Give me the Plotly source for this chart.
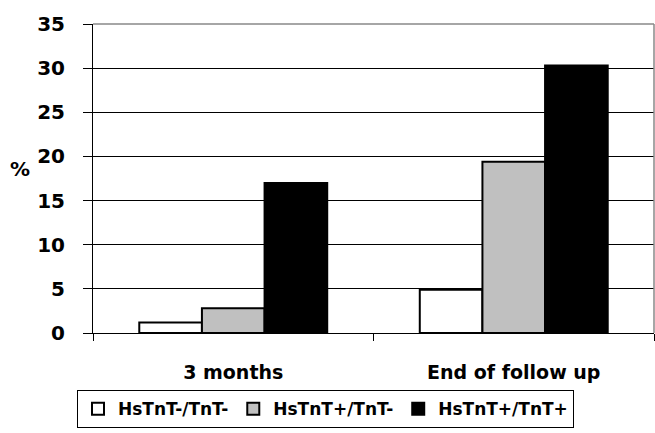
import plotly.graph_objects as go

categories = ["3 months", "End of follow up"]
series_names = ["HsTnT-/TnT-", "HsTnT+/TnT-", "HsTnT+/TnT+"]
series_values = [
    [1.2, 4.9],
    [2.8, 19.4],
    [17.0, 30.3],
]
series_colors = ["#ffffff", "#c0c0c0", "#000000"]
y_ticks = [0, 5, 10, 15, 20, 25, 30, 35]

FONT = "DejaVu Sans, sans-serif"

fig = go.Figure()
for name, vals, col in zip(series_names, series_values, series_colors):
    fig.add_trace(go.Bar(
        x=categories, y=vals, name=name,
        marker=dict(color=col, line=dict(color="black", width=2)),
    ))

fig.update_layout(
    width=655, height=433,
    margin=dict(l=93, r=1, t=24, b=100),
    paper_bgcolor="white", plot_bgcolor="white",
    barmode="group", bargap=0.33, bargroupgap=0,
    font=dict(family=FONT, color="black", size=20),
    showlegend=True,
    legend=dict(
        orientation="h", x=-0.0285, xanchor="left", y=-0.185, yanchor="top",
        bordercolor="black", borderwidth=1,
        font=dict(family=FONT, size=17, color="black", weight="bold"),
        itemwidth=30, tracegroupgap=0,
    ),
    xaxis=dict(
        type="category", showline=True, linecolor="black", linewidth=1,
        ticks="outside", ticklen=7, tickcolor="black", tickson="boundaries",
        tickfont=dict(family=FONT, size=19, color="black", weight="bold"),
        ticklabelstandoff=22,
        showgrid=False,
    ),
    yaxis=dict(
        range=[0, 35], tickvals=y_ticks,
        showline=True, linecolor="black", linewidth=1,
        ticks="outside", ticklen=9, tickcolor="black",
        showgrid=True, gridcolor="black", gridwidth=1,
        tickfont=dict(family=FONT, size=20, color="black", weight="bold"),
        ticklabelstandoff=14,
        zeroline=False,
    ),
    annotations=[dict(
        text="%", xref="paper", yref="paper",
        x=(20 - 93) / 561, y=(333 - 169) / 309, xanchor="center", yanchor="middle",
        showarrow=False, font=dict(family=FONT, size=20, color="black", weight="bold"),
    )],
    shapes=[
        dict(type="line", xref="paper", yref="paper", x0=0, x1=1, y0=1, y1=1,
             line=dict(color="#888888", width=1.5)),
        dict(type="line", xref="paper", yref="paper", x0=1, x1=1, y0=0, y1=1,
             line=dict(color="#888888", width=1.5)),
    ],
)

fig.write_html("out.html", config={"displayModeBar": False},
               post_script="document.body.style.margin='0';")
